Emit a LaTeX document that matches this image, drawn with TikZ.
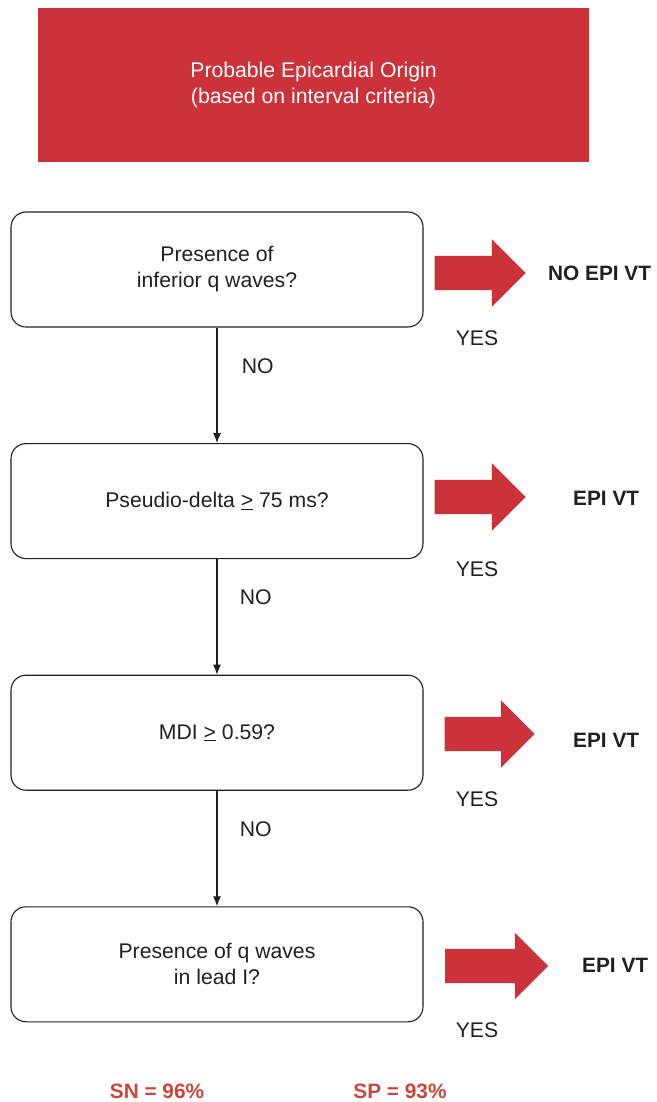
\documentclass[tikz,border=0pt]{standalone}
\usepackage{fontspec}
\setmainfont{Liberation Sans}
\usetikzlibrary{positioning, shapes.arrows, arrows.meta}
\definecolor{epired}{RGB}{204,50,57}
\definecolor{statred}{RGB}{201,70,60}
\definecolor{inkgray}{RGB}{35,31,32}
\newcommand{\atleast}{\underline{>}}
\tikzset{
	question/.style={draw=inkgray, line width=1.1pt, rounded corners=15pt, minimum width=412pt, minimum height=115pt, align=center, text=inkgray},
	yesarrow/.style={single arrow, fill=epired, inner xsep=0pt, inner ysep=17pt, single arrow head extend=16.5pt, single arrow tip angle=90},
	result/.style={anchor=west, inner sep=0pt, font=\fontsize{20.8}{26}\selectfont\bfseries, text=inkgray},
	answer/.style={text=inkgray},
}

\begin{document}
\begin{tikzpicture}[x=1pt, y=-1pt, font=\fontsize{21.2}{26}\selectfont, node distance=115.5pt]
	\useasboundingbox (0,0) rectangle (656,1102);
	
	\node[fill=epired, minimum width=551pt, minimum height=154pt, align=center, text=white] (origin) at (313.5,85) {Probable Epicardial Origin\\(based on interval criteria)};
	
	\node[question] (qinf) at (217,269.5) {Presence of\\inferior q waves?};
	\node[question, below=of qinf] (qdelta) {Pseudio-delta \atleast{} 75 ms?};
	\node[question, below=of qdelta] (qmdi) {MDI \atleast{} 0.59?};
	\node[question, below=of qmdi] (qlead) {Presence of q waves\\in lead I?};
	
	\node[yesarrow, minimum height=91pt] (yinf) at (471.5,273) {};
	\node[yesarrow, minimum height=91pt] (ydelta) at (471.5,497) {};
	\node[yesarrow, minimum height=90pt] (ymdi) at (481,734) {};
	\node[yesarrow, minimum height=103pt, single arrow head extend=16pt] (ylead) at (488,966) {};
	
	\node[result] (rinf) at (548,273) {NO EPI VT};
	\node[result] (rdelta) at (573,498) {EPI VT};
	\node[result] (rmdi) at (573,740) {EPI VT};
	\node[result] (rlead) at (582,965) {EPI VT};
	
	\node[answer] at (477,338) {YES};
	\node[answer] at (477,569) {YES};
	\node[answer] at (477,799) {YES};
	\node[answer] at (477,1030) {YES};
	
	\draw[inkgray, line width=1.1pt, -{Latex[length=10pt, width=8pt]}] (qinf) -- node[answer, right=21pt, yshift=19pt] {NO} (qdelta);
	\draw[inkgray, line width=1.1pt, -{Latex[length=10pt, width=8pt]}] (qdelta) -- node[answer, right=19pt, yshift=19.5pt] {NO} (qmdi);
	\draw[inkgray, line width=1.1pt, -{Latex[length=10pt, width=8pt]}] (qmdi) -- node[answer, right=19pt, yshift=19.5pt] {NO} (qlead);
	
	\node[font=\fontsize{20.8}{26}\selectfont\bfseries, text=statred] (sn) at (157,1091) {SN = 96\%};
	\node[font=\fontsize{20.8}{26}\selectfont\bfseries, text=statred] (sp) at (400,1091) {SP = 93\%};
\end{tikzpicture}
\end{document}
